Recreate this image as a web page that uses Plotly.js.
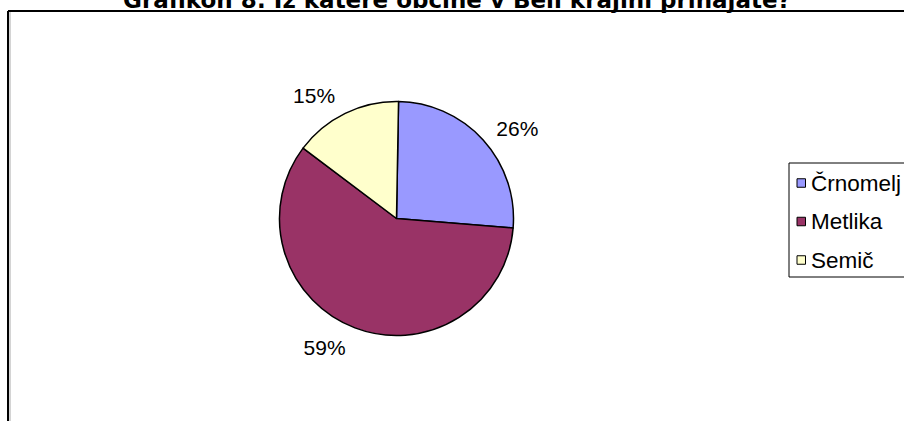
<!DOCTYPE html>
<html>
<head>
<meta charset="utf-8">
<script src="https://cdn.plot.ly/plotly-3.0.1.min.js"></script>
<style>
html,body{margin:0;padding:0;background:#fff;}
#chart{width:904px;height:421px;}
</style>
</head>
<body>
<div id="chart"></div>
<script>
// Data
const titleText = 'Grafikon 8: Iz katere občine v Beli krajini prihajate?';
const categories = ['Črnomelj', 'Metlika', 'Semič'];
const shares = [26, 59, 15];
const colors = ['#9999FF', '#993366', '#FFFFCC'];

const W = 904, H = 421;
const px = v => v / W;           // pixel -> paper x
const py = v => 1 - v / H;       // pixel (from top) -> paper y
const FONT = 'Liberation Sans, Arial, sans-serif';

// pie geometry (pixels)
const cx = 396.5, cy = 218.5, r = 117;
const rl = 127; // invisible label ring

const traces = [];
traces.push({
  type: 'pie',
  labels: categories,
  values: shares,
  sort: false,
  direction: 'clockwise',
  rotation: 1,
  marker: {colors: colors, line: {color: '#000000', width: 1.5}},
  textinfo: 'none',
  hoverinfo: 'skip',
  showlegend: false,
  domain: {x: [px(cx - r), px(cx + r)], y: [py(cy + r), py(cy - r)]}
});
traces.push({
  type: 'pie',
  labels: categories,
  values: shares,
  sort: false,
  direction: 'clockwise',
  rotation: 1,
  marker: {colors: ['rgba(0,0,0,0)','rgba(0,0,0,0)','rgba(0,0,0,0)'], line: {width: 0}},
  textinfo: 'percent',
  texttemplate: '%{percent:.0%}',
  textposition: 'outside',
  outsidetextfont: {family: FONT, size: 21, color: '#000'},
  hoverinfo: 'skip',
  showlegend: false,
  domain: {x: [px(cx - rl), px(cx + rl)], y: [py(cy + rl), py(cy - rl)]}
});

// legend (built from the category / colour arrays)
const legTop = 163, legBottom = 277, legLeft = 789;
const rowY0 = 183, rowStep = 38.5, sq = 8.5, sqX = 797, txtX = 809;
const shapes = [
  {type: 'line', xref: 'paper', yref: 'paper', x0: px(8), x1: 1.01, y0: py(11), y1: py(11), line: {color: '#000', width: 2}},
  {type: 'line', xref: 'paper', yref: 'paper', x0: px(8), x1: px(8), y0: py(11), y1: -0.01, line: {color: '#000', width: 2}},
  {type: 'line', xref: 'paper', yref: 'paper', x0: px(10), x1: px(10), y0: py(12), y1: -0.01, line: {color: '#aaa', width: 1}},
  {type: 'rect', xref: 'paper', yref: 'paper', x0: px(legLeft), x1: 1.02, y0: py(legBottom), y1: py(legTop), line: {color: '#000', width: 1}, fillcolor: 'rgba(0,0,0,0)'}
];
const annotations = [{
  text: '<b>' + titleText + '</b>',
  xref: 'paper', yref: 'paper', x: px(457), y: py(15.5),
  xanchor: 'center', yanchor: 'bottom', showarrow: false,
  font: {family: 'DejaVu Sans, Verdana, sans-serif', size: 23, color: '#000'}
}];
categories.forEach((c, i) => {
  const yc = rowY0 + rowStep * i;
  shapes.push({type: 'rect', xref: 'paper', yref: 'paper',
    x0: px(sqX), x1: px(sqX + sq), y0: py(yc + sq / 2), y1: py(yc - sq / 2),
    line: {color: '#000', width: 1}, fillcolor: colors[i]});
  annotations.push({text: c, xref: 'paper', yref: 'paper', x: px(txtX), y: py(yc),
    xanchor: 'left', yanchor: 'middle', showarrow: false,
    font: {family: FONT, size: 22.5, color: '#000'}});
});

const layout = {
  width: W, height: H,
  margin: {l: 0, r: 0, t: 0, b: 0},
  paper_bgcolor: '#fff', plot_bgcolor: 'rgba(0,0,0,0)',
  font: {family: FONT, size: 18, color: '#000'},
  showlegend: false,
  annotations: annotations,
  shapes: shapes
};

Plotly.newPlot('chart', traces, layout, {displayModeBar: false, staticPlot: true});
</script>
</body>
</html>
